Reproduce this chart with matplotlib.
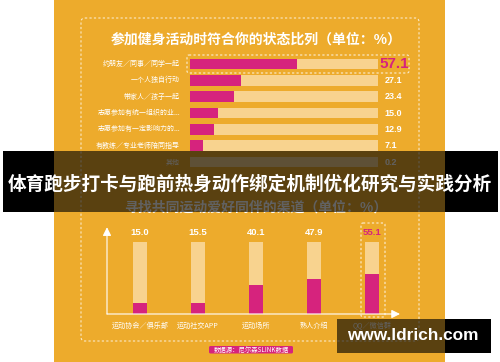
import matplotlib.pyplot as plt
from matplotlib.patches import Rectangle, FancyBboxPatch

plt.rcParams['font.family'] = ['Noto Sans CJK SC', 'DejaVu Sans']

# -------------------------
# Data
# -------------------------
state_labels = ["约朋友／同事／同学一起", "一个人独自行动", "带家人／孩子一起",
                "志愿参加有统一组织的业...", "志愿参加有一定影响力的...",
                "有教练／专业老师陪同指导", "其他"]
state_values = [57.1, 27.1, 23.4, 15.0, 12.9, 7.1, 0.2]

channel_labels = ["运动协会／俱乐部", "运动社交APP", "运动场所", "熟人介绍", "QQ／微信群"]
channel_values = [15.0, 15.5, 40.1, 47.9, 55.1]

title1 = "参加健身活动时符合你的状态比列（单位：%）"
title2 = "寻找共同运动爱好同伴的渠道（单位：%）"
banner = "体育跑步打卡与跑前热身动作绑定机制优化研究与实践分析"
source = "数据源：尼尔森SLINK数据"
watermark = "www.ldrich.com"

# -------------------------
# Colours
# -------------------------
ORANGE = "#EDAB2C"
LIGHT = "#F8D38F"
MAGENTA = "#D6237D"
NUM_FONT = ['Liberation Sans', 'DejaVu Sans']

W, H = 500, 362
fig = plt.figure(figsize=(5, 3.62), dpi=100)

# background layer in pixel coordinates
bg = fig.add_axes([0, 0, 1, 1], zorder=0)
bg.set_xlim(0, W)
bg.set_ylim(H, 0)
bg.axis("off")

bg.add_patch(Rectangle((54, 0), 391, 362, color=ORANGE, lw=0))
bg.add_patch(FancyBboxPatch((81, 18), 338, 323, boxstyle="round,pad=0,rounding_size=4",
                            fill=False, ec="white", alpha=0.75, lw=0.8, ls=(0, (2, 2))))
bg.text(256, 40, title1, color="white", fontsize=10, fontweight="bold",
        ha="center", va="center")
bg.text(256, 208, title2, color="white", fontsize=10, fontweight="bold",
        ha="center", va="center")

# highlight boxes
bg.add_patch(FancyBboxPatch((187, 55), 222, 18, boxstyle="round,pad=0,rounding_size=2",
                            fill=False, ec="white", alpha=0.8, lw=0.8, ls=(0, (2, 2))))
bg.add_patch(FancyBboxPatch((361, 223), 24, 94, boxstyle="round,pad=0,rounding_size=2",
                            fill=False, ec="white", alpha=0.8, lw=0.8, ls=(0, (2, 2))))

# source tag
bg.add_patch(FancyBboxPatch((209, 346), 84, 7.5, boxstyle="round,pad=0,rounding_size=1.5",
                            color=MAGENTA, lw=0))
bg.text(251, 349.8, source, color="white", fontsize=4.6, ha="center", va="center")

# -------------------------
# Horizontal bars
# -------------------------
hax = fig.add_axes([190 / W, 1 - 170.2 / H, 188 / W, 114.3 / H], zorder=1)
hax.patch.set_visible(False)
rows = list(range(len(state_labels)))
hax.barh(rows, [100] * len(rows), height=0.64, color=LIGHT, lw=0)
hax.barh(rows, state_values, height=0.64, color=MAGENTA, lw=0)
hax.set_xlim(0, 100)
hax.set_ylim(len(rows) - 0.5, -0.5)
hax.axis("off")

for i, (lab, val) in enumerate(zip(state_labels, state_values)):
    hax.text(-5.3, i, lab, color="white", fontsize=5, ha="right", va="center")
    if i == 0:
        hax.text(100.8, i, f"{val:.1f}", color=MAGENTA, fontsize=11, fontweight="bold",
                 family=NUM_FONT, ha="left", va="center")
    else:
        hax.text(103.5, i, f"{val:.1f}", color="white", fontsize=6.5, fontweight="bold",
                 family=NUM_FONT, ha="left", va="center")

# -------------------------
# Vertical bars
# -------------------------
vax = fig.add_axes([107 / W, 1 - 314 / H, 293 / W, 86.8 / H], zorder=1)
vax.patch.set_visible(False)
cols = list(range(len(channel_labels)))
vax.bar(cols, [100] * len(cols), width=0.23, color=LIGHT, lw=0)
vax.bar(cols, channel_values, width=0.23, color=MAGENTA, lw=0)
vax.set_xlim(-0.569, 4.483)
vax.set_ylim(0, 120)
vax.axis("off")
vax.annotate("", xy=(0, 1), xytext=(0, 0), xycoords="axes fraction",
             arrowprops=dict(arrowstyle="-|>,head_length=0.5,head_width=0.25",
                             color="white", lw=0.8, shrinkA=0, shrinkB=0))
vax.annotate("", xy=(1, 0), xytext=(0, 0), xycoords="axes fraction",
             arrowprops=dict(arrowstyle="-|>,head_length=0.5,head_width=0.25",
                             color="white", lw=0.8, shrinkA=0, shrinkB=0))

for i, (lab, val) in enumerate(zip(channel_labels, channel_values)):
    color = MAGENTA if i == len(cols) - 1 else "white"
    vax.text(i, 112, f"{val:.1f}", color=color, fontsize=6.8, fontweight="bold",
             family=NUM_FONT, ha="center", va="center")
    vax.text(i, -16.6, lab, color="white", fontsize=5.1, ha="center", va="center",
             clip_on=False)

# -------------------------
# Overlays (banner + watermark)
# -------------------------
top = fig.add_axes([0, 0, 1, 1], zorder=5)
top.set_xlim(0, W)
top.set_ylim(H, 0)
top.axis("off")
top.patch.set_visible(False)

top.add_patch(Rectangle((3, 151), 51, 61, color="black", lw=0))
top.add_patch(Rectangle((445, 151), 53, 61, color="black", lw=0))
top.add_patch(Rectangle((54, 151), 391, 61, color="black", alpha=0.62, lw=0))
top.text(250, 184, banner, color="white", fontsize=13.4, fontweight="bold",
         ha="center", va="center")

top.add_patch(Rectangle((337, 319), 108, 34, color="black", alpha=0.62, lw=0))
top.add_patch(Rectangle((445, 319), 46, 34, color="black", lw=0))
top.text(413, 336, watermark, color="white", fontsize=12.4, fontweight="bold",
         family=['Liberation Sans', 'DejaVu Sans'], ha="center", va="center")

fig.savefig("out.png", dpi=100)
